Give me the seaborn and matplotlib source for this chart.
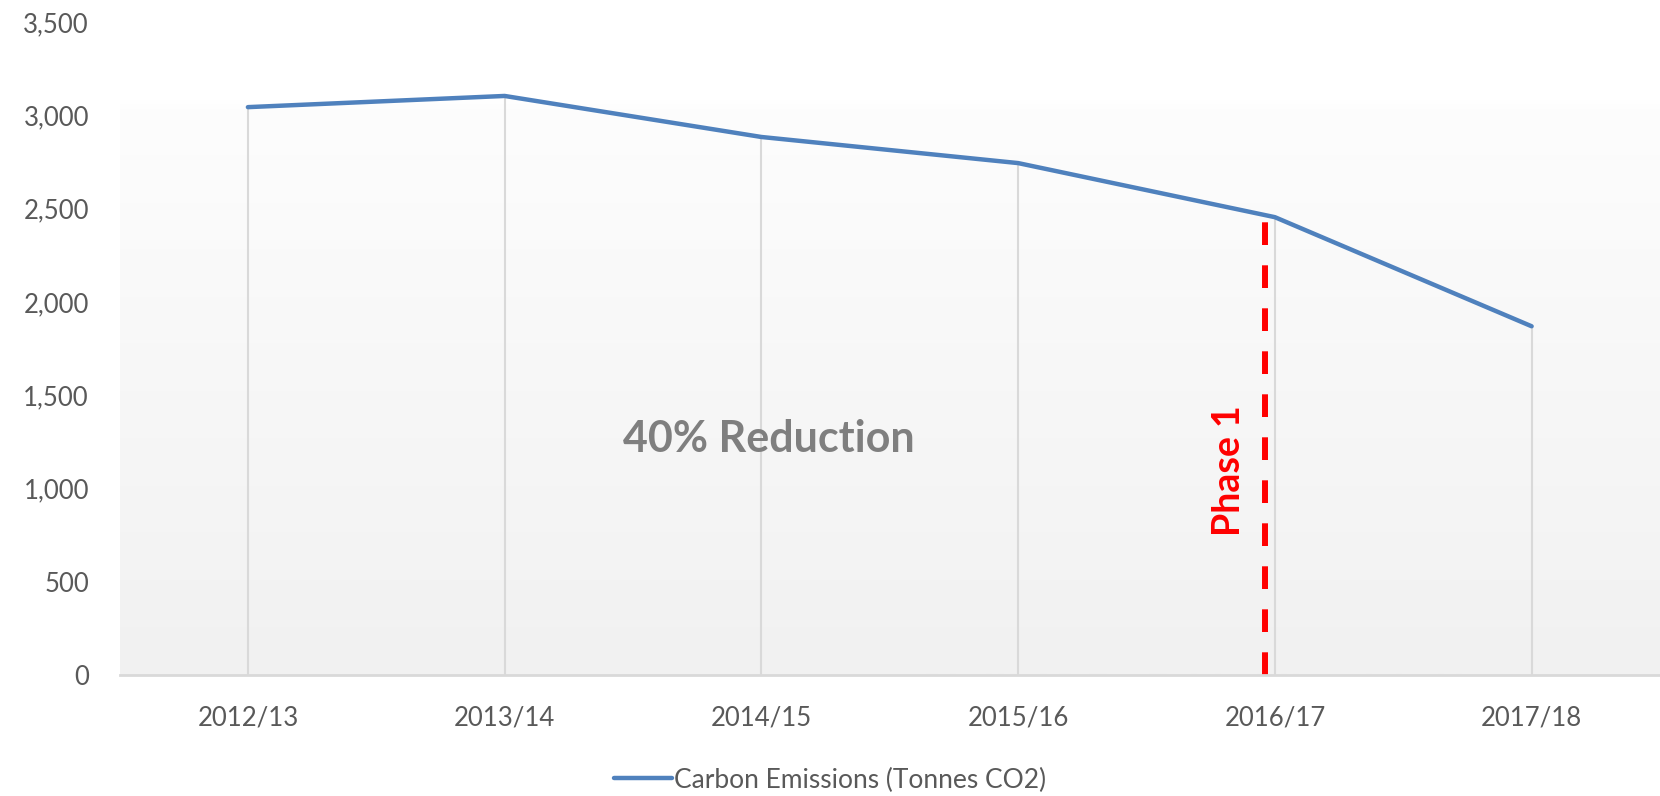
import matplotlib
matplotlib.use("Agg")
import matplotlib.pyplot as plt
from matplotlib.colors import LinearSegmentedColormap
from matplotlib.ticker import FuncFormatter
import numpy as np
import pandas as pd
import seaborn as sns

# Data
years = ["2012/13", "2013/14", "2014/15", "2015/16", "2016/17", "2017/18"]
emissions = [3045, 3105, 2885, 2745, 2455, 1870]
phase_year = "2016/17"
series_name = "Carbon Emissions (Tonnes CO2)"

df = pd.DataFrame({"year": years, "emissions": emissions})

sns.set_style("white")
plt.rcParams["font.family"] = ["Lato", "DejaVu Sans"]

fig = plt.figure(figsize=(16.6, 7.96), dpi=100)
ax = fig.add_axes([0.072, 0.152, 0.928, 0.820])

# gradient plot area, light grey at bottom fading to white near the top
cmap = LinearSegmentedColormap.from_list(
    "bg", [(0.0, "#f1f1f1"), (0.87, "#fdfdfd"), (0.88, "#ffffff"), (1.0, "#ffffff")])
ax.imshow(np.linspace(0, 1, 512).reshape(-1, 1), cmap=cmap, aspect="auto",
          extent=(-0.5, len(years) - 0.5, 0, 3500), origin="lower", zorder=0)

pos = np.arange(len(years))
# drop lines
ax.vlines(pos, 0, emissions, color="#d9d9d9", lw=1.5, zorder=1)

sns.lineplot(data=df, x="year", y="emissions", ax=ax, color="#4f81bd",
             lw=3.2, sort=False, label=series_name, zorder=3)

# phase 1 marker
pi = years.index(phase_year)
ax.vlines(pi - 0.037, 0, emissions[pi], color="#ff0000", lw=4.3,
          linestyles=(0, (3.8, 3.4)), zorder=2)
ax.text(pi - 0.18, 1095, "Phase 1", rotation=90, color="#ff0000",
        fontsize=27, fontweight="bold", ha="center", va="center")
ax.text(2.03, 1265, "40% Reduction", color="#7f7f7f", fontsize=31,
        fontweight="bold", ha="center", va="center")

ax.set_xlim(-0.5, len(years) - 0.5)
ax.set_ylim(0, 3500)
ax.set_yticks(np.arange(0, 3501, 500))
ax.yaxis.set_major_formatter(FuncFormatter(lambda v, p: f"{v:,.0f}"))
ax.set_xlabel("")
ax.set_ylabel("")
ax.tick_params(axis="both", length=0, labelsize=18.5, colors="#595959")
ax.tick_params(axis="y", pad=22)
ax.tick_params(axis="x", pad=22)

for s in ["top", "right", "left"]:
    ax.spines[s].set_visible(False)
ax.spines["bottom"].set_color("#d9d9d9")
ax.spines["bottom"].set_linewidth(2)
ax.spines["bottom"].set_zorder(4)

ax.get_legend().remove()
handles, labels = ax.get_legend_handles_labels()
fig.legend(handles, labels, loc="center", bbox_to_anchor=(0.5, 0.02),
           frameon=False, fontsize=19, labelcolor="#595959",
           handlelength=2.2, handletextpad=0.1)

fig.savefig("out.png", dpi=100)
